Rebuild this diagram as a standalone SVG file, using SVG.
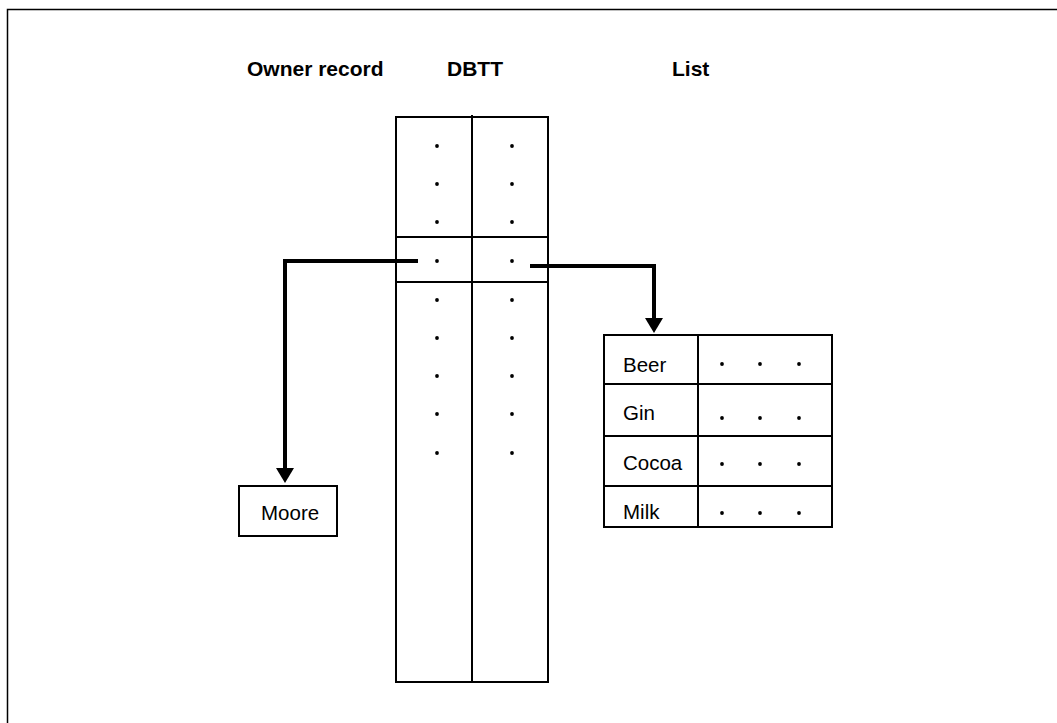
<svg xmlns="http://www.w3.org/2000/svg" width="1057" height="723" viewBox="0 0 1057 723">
<style>
.hdr{font-family:"Liberation Sans",Arial,sans-serif;font-size:21px;font-weight:bold;fill:#000}
.lbl{font-family:"Liberation Sans",Arial,sans-serif;font-size:20.5px;fill:#000}
.box{fill:none;stroke:#000;stroke-width:2}
.thin{fill:none;stroke:#000;stroke-width:1.5}
.conn{fill:none;stroke:#000;stroke-width:4}
.dot{fill:#000}
</style>
<rect x="0" y="0" width="1057" height="723" fill="#fff"/>
<path class="thin" d="M7.5,723 V9.5 H1057"/>
<g id="headers">
<text class="hdr" x="247" y="76">Owner record</text>
<text class="hdr" x="447" y="76">DBTT</text>
<text class="hdr" x="672" y="76">List</text>
</g>
<g id="dbtt">
<rect class="box" x="396" y="117" width="152" height="565"/>
<line class="box" x1="472" y1="115" x2="472" y2="682"/>
<line class="box" x1="396" y1="237" x2="548" y2="237"/>
<line class="box" x1="396" y1="282" x2="548" y2="282"/>
<g class="dot">
<circle cx="437" cy="146" r="1.9"/><circle cx="512" cy="146" r="1.9"/>
<circle cx="437" cy="184" r="1.9"/><circle cx="512" cy="184" r="1.9"/>
<circle cx="437" cy="222" r="1.9"/><circle cx="512" cy="222" r="1.9"/>
<circle cx="437" cy="261" r="1.9"/><circle cx="512" cy="261" r="1.9"/>
<circle cx="437" cy="300" r="1.9"/><circle cx="512" cy="300" r="1.9"/>
<circle cx="437" cy="338" r="1.9"/><circle cx="512" cy="338" r="1.9"/>
<circle cx="437" cy="376" r="1.9"/><circle cx="512" cy="376" r="1.9"/>
<circle cx="437" cy="414" r="1.9"/><circle cx="512" cy="414" r="1.9"/>
<circle cx="437" cy="453" r="1.9"/><circle cx="512" cy="453" r="1.9"/>
</g>
</g>
<g id="moore">
<rect class="box" x="239" y="486" width="98" height="50"/>
<text class="lbl" x="261" y="520">Moore</text>
</g>
<g id="list">
<rect class="box" x="604" y="335" width="228" height="192"/>
<line class="box" x1="698" y1="335" x2="698" y2="527"/>
<line class="box" x1="604" y1="384" x2="832" y2="384"/>
<line class="box" x1="604" y1="436" x2="832" y2="436"/>
<line class="box" x1="604" y1="486" x2="832" y2="486"/>
<text class="lbl" x="623" y="372">Beer</text>
<text class="lbl" x="623" y="420">Gin</text>
<text class="lbl" x="623" y="470">Cocoa</text>
<text class="lbl" x="623" y="519">Milk</text>
<g class="dot">
<circle cx="722" cy="364" r="1.9"/><circle cx="760" cy="364" r="1.9"/><circle cx="799" cy="364" r="1.9"/>
<circle cx="722" cy="418" r="1.9"/><circle cx="760" cy="418" r="1.9"/><circle cx="799" cy="418" r="1.9"/>
<circle cx="722" cy="464" r="1.9"/><circle cx="760" cy="464" r="1.9"/><circle cx="799" cy="464" r="1.9"/>
<circle cx="722" cy="513" r="1.9"/><circle cx="760" cy="513" r="1.9"/><circle cx="799" cy="513" r="1.9"/>
</g>
</g>
<g id="connectors">
<path class="conn" d="M418,261 H285 V469"/>
<polygon points="276,468 294,468 285,483" fill="#000"/>
<path class="conn" d="M530,266 H654 V319"/>
<polygon points="645,318 663,318 654,333" fill="#000"/>
</g>
</svg>
